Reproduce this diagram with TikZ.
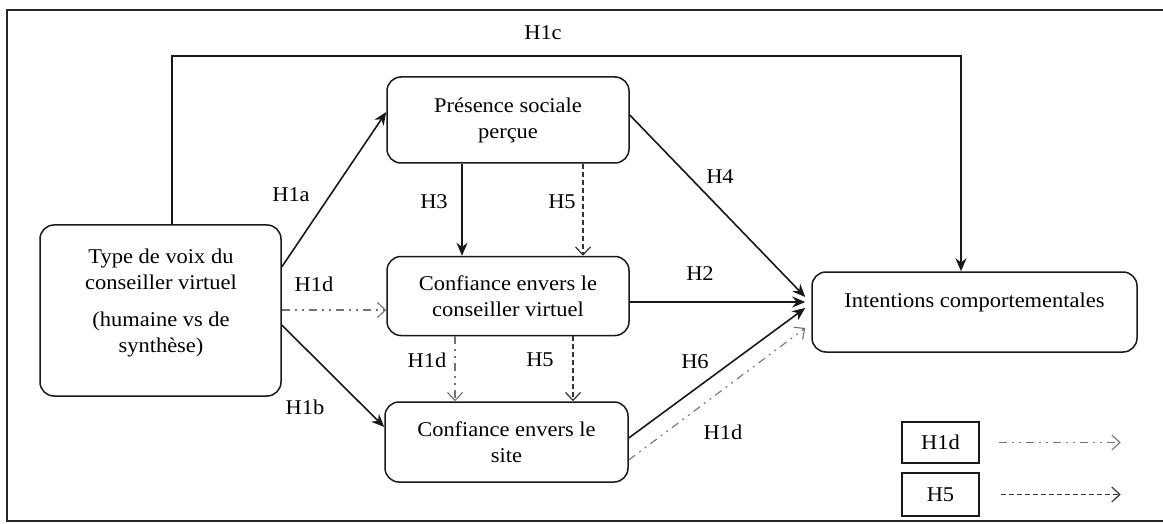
\documentclass[tikz,border=0pt]{standalone}
\usepackage{fontspec}
\setmainfont{Liberation Serif}[FakeStretch=1.07]
\usetikzlibrary{arrows.meta}
\tikzset{
  box/.style={draw=black!90, line width=1.5pt, rounded corners=14pt, inner sep=0pt, align=center},
  legbox/.style={draw=black!90, line width=1.3pt, inner sep=0pt},
  txt/.style={inner sep=0pt, align=center, font=\fontsize{21}{26}\selectfont},
  lbl/.style={inner sep=0pt, font=\fontsize{21}{26}\selectfont},
  solidarr/.style={draw=black!90, line width=1.6pt, -{Stealth[length=13pt,width=11pt]}},
  dasharr/.style={draw=black!80, line width=1.2pt, dash pattern=on 5pt off 3pt, -{Straight Barb[length=8pt,width=15pt]}},
  dotarr/.style={draw=black!55, line width=1.1pt, dash pattern=on 8pt off 5pt on 2pt off 5pt on 2pt off 5pt, -{Straight Barb[length=8pt,width=15pt]}},
}
\begin{document}
\begin{tikzpicture}[x=1pt,y=-1pt]
\useasboundingbox (0,0) rectangle (1163,524);
% frame
\draw[line width=1.4pt, black!85] (1163,10) -- (7,10) -- (7,521) -- (1163,521);

% boxes
\node[box, minimum width=241pt, minimum height=171pt] (type) at (160.5,310.5) {};
\node[txt] (typet) at (161,303) {Type de voix du\\conseiller virtuel\\[11pt](humaine vs de\\synthèse)};
\node[box, txt, minimum width=242pt, minimum height=86pt] (pres) at (508,120) {Présence sociale\\perçue};
\node[box, txt, minimum width=242pt, minimum height=79pt] (conf) at (508,296) {Confiance envers le\\conseiller virtuel};
\node[box, txt, minimum width=243pt, minimum height=80pt] (site) at (506.5,442) {Confiance envers le\\site};
\node[box, minimum width=325pt, minimum height=80pt] (intent) at (974.5,312) {};
\node[txt] (intentt) at (974.5,302) {Intentions comportementales};

% legend
\node[legbox, lbl, minimum width=77pt, minimum height=41pt] (leg1) at (940.5,442.5) {H1d};
\node[legbox, lbl, minimum width=77pt, minimum height=43pt] (leg2) at (940.5,494.5) {H5};
\draw[dotarr] ([xshift=19pt]leg1.east) -- ([xshift=141pt]leg1.east);
\draw[dasharr] ([xshift=21pt]leg2.east) -- ([xshift=141pt]leg2.east);

% connectors
\draw[solidarr] ([xshift=11.5pt]type.north) -- ++(0,-168) -| ([xshift=-13.5pt]intent.north);
\draw[solidarr] ([yshift=43.5pt]type.east) -- ([yshift=8pt]pres.west);
\draw[dotarr] ([yshift=0.5pt]type.east) -- ([yshift=-14pt]conf.west);
\draw[solidarr] ([yshift=-14.5pt]type.east) -- ([yshift=15pt]site.west);
\draw[solidarr] ([xshift=-46pt]pres.south) -- ([xshift=-46pt]conf.north);
\draw[dasharr] ([xshift=75pt]pres.south) -- ([xshift=75pt]conf.north);
\draw[solidarr] ([yshift=5pt]pres.east) -- ([xshift=-6pt,yshift=15pt]intent.west);
\draw[solidarr] ([yshift=-6pt]conf.east) -- ([xshift=-6pt,yshift=10pt]intent.west);
\draw[solidarr] ([yshift=4pt]site.east) -- ([xshift=-6pt,yshift=4pt]intent.west);
\draw[dotarr] ([yshift=-18pt]site.east) -- ([xshift=-6pt,yshift=-16pt]intent.west);
\draw[dotarr] ([xshift=-53pt]conf.south) -- ([xshift=-51.5pt]site.north);
\draw[dasharr] ([xshift=65pt]conf.south) -- ([xshift=66.5pt]site.north);

% labels
\node[lbl] (lh1c) at (543,33) {H1c};
\node[lbl] (lh1a) at (291,195) {H1a};
\node[lbl] (lh1d1) at (314,284) {H1d};
\node[lbl] (lh1b) at (305,407) {H1b};
\node[lbl] (lh3) at (434,202) {H3};
\node[lbl] (lh5a) at (562,202) {H5};
\node[lbl] (lh4) at (720,177) {H4};
\node[lbl] (lh2) at (700,274) {H2};
\node[lbl] (lh6) at (695,362) {H6};
\node[lbl] (lh1d2) at (723,432) {H1d};
\node[lbl] (lh1d3) at (427,360) {H1d};
\node[lbl] (lh5b) at (540,360) {H5};
\end{tikzpicture}
\end{document}
